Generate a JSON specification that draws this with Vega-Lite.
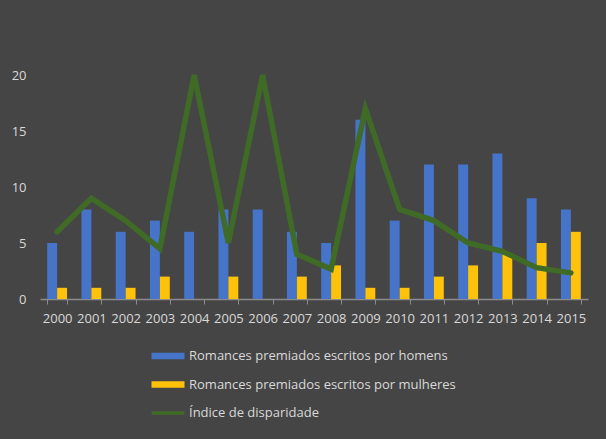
{
  "$schema": "https://vega.github.io/schema/vega-lite/v6.json",
  "width": 548,
  "height": 224,
  "autosize": {"type": "none"},
  "padding": {"left": 40, "top": 75, "right": 18, "bottom": 140},
  "background": "#454545",
  "config": {
    "view": {"stroke": null},
    "font": "Open Sans",
    "axis": {"labelFont": "Open Sans", "labelFontSize": 13, "labelColor": "#d9d9d9", "grid": false, "title": null},
    "legend": {"labelFont": "Open Sans", "labelFontSize": 13, "labelColor": "#d9d9d9", "labelLimit": 0}
  },
  "data": {
    "values": [
      {"ano": "2000", "serie": "Romances premiados escritos por homens", "valor": 5},
      {"ano": "2001", "serie": "Romances premiados escritos por homens", "valor": 8},
      {"ano": "2002", "serie": "Romances premiados escritos por homens", "valor": 6},
      {"ano": "2003", "serie": "Romances premiados escritos por homens", "valor": 7},
      {"ano": "2004", "serie": "Romances premiados escritos por homens", "valor": 6},
      {"ano": "2005", "serie": "Romances premiados escritos por homens", "valor": 8},
      {"ano": "2006", "serie": "Romances premiados escritos por homens", "valor": 8},
      {"ano": "2007", "serie": "Romances premiados escritos por homens", "valor": 6},
      {"ano": "2008", "serie": "Romances premiados escritos por homens", "valor": 5},
      {"ano": "2009", "serie": "Romances premiados escritos por homens", "valor": 16},
      {"ano": "2010", "serie": "Romances premiados escritos por homens", "valor": 7},
      {"ano": "2011", "serie": "Romances premiados escritos por homens", "valor": 12},
      {"ano": "2012", "serie": "Romances premiados escritos por homens", "valor": 12},
      {"ano": "2013", "serie": "Romances premiados escritos por homens", "valor": 13},
      {"ano": "2014", "serie": "Romances premiados escritos por homens", "valor": 9},
      {"ano": "2015", "serie": "Romances premiados escritos por homens", "valor": 8},
      {"ano": "2000", "serie": "Romances premiados escritos por mulheres", "valor": 1},
      {"ano": "2001", "serie": "Romances premiados escritos por mulheres", "valor": 1},
      {"ano": "2002", "serie": "Romances premiados escritos por mulheres", "valor": 1},
      {"ano": "2003", "serie": "Romances premiados escritos por mulheres", "valor": 2},
      {"ano": "2004", "serie": "Romances premiados escritos por mulheres", "valor": 0},
      {"ano": "2005", "serie": "Romances premiados escritos por mulheres", "valor": 2},
      {"ano": "2006", "serie": "Romances premiados escritos por mulheres", "valor": 0},
      {"ano": "2007", "serie": "Romances premiados escritos por mulheres", "valor": 2},
      {"ano": "2008", "serie": "Romances premiados escritos por mulheres", "valor": 3},
      {"ano": "2009", "serie": "Romances premiados escritos por mulheres", "valor": 1},
      {"ano": "2010", "serie": "Romances premiados escritos por mulheres", "valor": 1},
      {"ano": "2011", "serie": "Romances premiados escritos por mulheres", "valor": 2},
      {"ano": "2012", "serie": "Romances premiados escritos por mulheres", "valor": 3},
      {"ano": "2013", "serie": "Romances premiados escritos por mulheres", "valor": 4},
      {"ano": "2014", "serie": "Romances premiados escritos por mulheres", "valor": 5},
      {"ano": "2015", "serie": "Romances premiados escritos por mulheres", "valor": 6},
      {"ano": "2000", "serie": "Índice de disparidade", "valor": 6},
      {"ano": "2001", "serie": "Índice de disparidade", "valor": 9},
      {"ano": "2002", "serie": "Índice de disparidade", "valor": 7},
      {"ano": "2003", "serie": "Índice de disparidade", "valor": 4.5},
      {"ano": "2004", "serie": "Índice de disparidade", "valor": 20},
      {"ano": "2005", "serie": "Índice de disparidade", "valor": 5},
      {"ano": "2006", "serie": "Índice de disparidade", "valor": 20},
      {"ano": "2007", "serie": "Índice de disparidade", "valor": 4},
      {"ano": "2008", "serie": "Índice de disparidade", "valor": 2.67},
      {"ano": "2009", "serie": "Índice de disparidade", "valor": 17},
      {"ano": "2010", "serie": "Índice de disparidade", "valor": 8},
      {"ano": "2011", "serie": "Índice de disparidade", "valor": 7},
      {"ano": "2012", "serie": "Índice de disparidade", "valor": 5},
      {"ano": "2013", "serie": "Índice de disparidade", "valor": 4.25},
      {"ano": "2014", "serie": "Índice de disparidade", "valor": 2.8},
      {"ano": "2015", "serie": "Índice de disparidade", "valor": 2.33}
    ]
  },
  "encoding": {
    "x": {
      "field": "ano", "type": "nominal", "sort": null,
      "scale": {"paddingInner": 0.42, "paddingOuter": 0.21},
      "axis": {"labelAngle": 0, "domainColor": "#8c8c8c", "tickColor": "#8c8c8c", "tickSize": 5, "tickBand": "extent", "labelPadding": 8, "domainWidth": 1.5}
    },
    "y": {
      "field": "valor", "type": "quantitative",
      "scale": {"domain": [0, 20]},
      "axis": {"values": [0, 5, 10, 15, 20], "domain": false, "ticks": false, "labelPadding": 14}
    },
    "color": {
      "field": "serie", "type": "nominal",
      "scale": {
        "domain": ["Romances premiados escritos por homens", "Romances premiados escritos por mulheres", "Índice de disparidade"],
        "range": ["#4674c8", "#ffc20a", "#3f6b27"]
      },
      "legend": {
        "title": null, "orient": "none", "legendX": 117, "legendY": 270, "direction": "vertical",
        "padding": 0, "rowPadding": 10.5, "symbolSize": 484, "labelOffset": 10, "symbolStrokeWidth": 0,
        "encode": {
          "symbols": {
            "update": {
              "shape": {"signal": "datum.value === 'Índice de disparidade' ? 'M-1.5,-0.17H1.5V0.17H-1.5Z' : 'M-1.5,-0.3H1.5V0.3H-1.5Z'"},
              "fill": {"scale": "color", "field": "value"},
              "fillOpacity": {"value": 1},
              "opacity": {"value": 1},
              "strokeWidth": {"value": 0}
            }
          }
        }
      }
    }
  },
  "layer": [
    {
      "transform": [{"filter": "datum.serie !== 'Índice de disparidade'"}],
      "mark": {"type": "bar"},
      "encoding": {
        "xOffset": {"field": "serie", "type": "nominal", "scale": {"domain": ["Romances premiados escritos por homens", "Romances premiados escritos por mulheres"], "paddingInner": 0, "paddingOuter": 0}}
      }
    },
    {
      "transform": [{"filter": "datum.serie === 'Índice de disparidade'"}],
      "mark": {"type": "line", "strokeWidth": 5.5, "strokeCap": "round", "strokeJoin": "miter"},
      "encoding": {}
    }
  ]
}
